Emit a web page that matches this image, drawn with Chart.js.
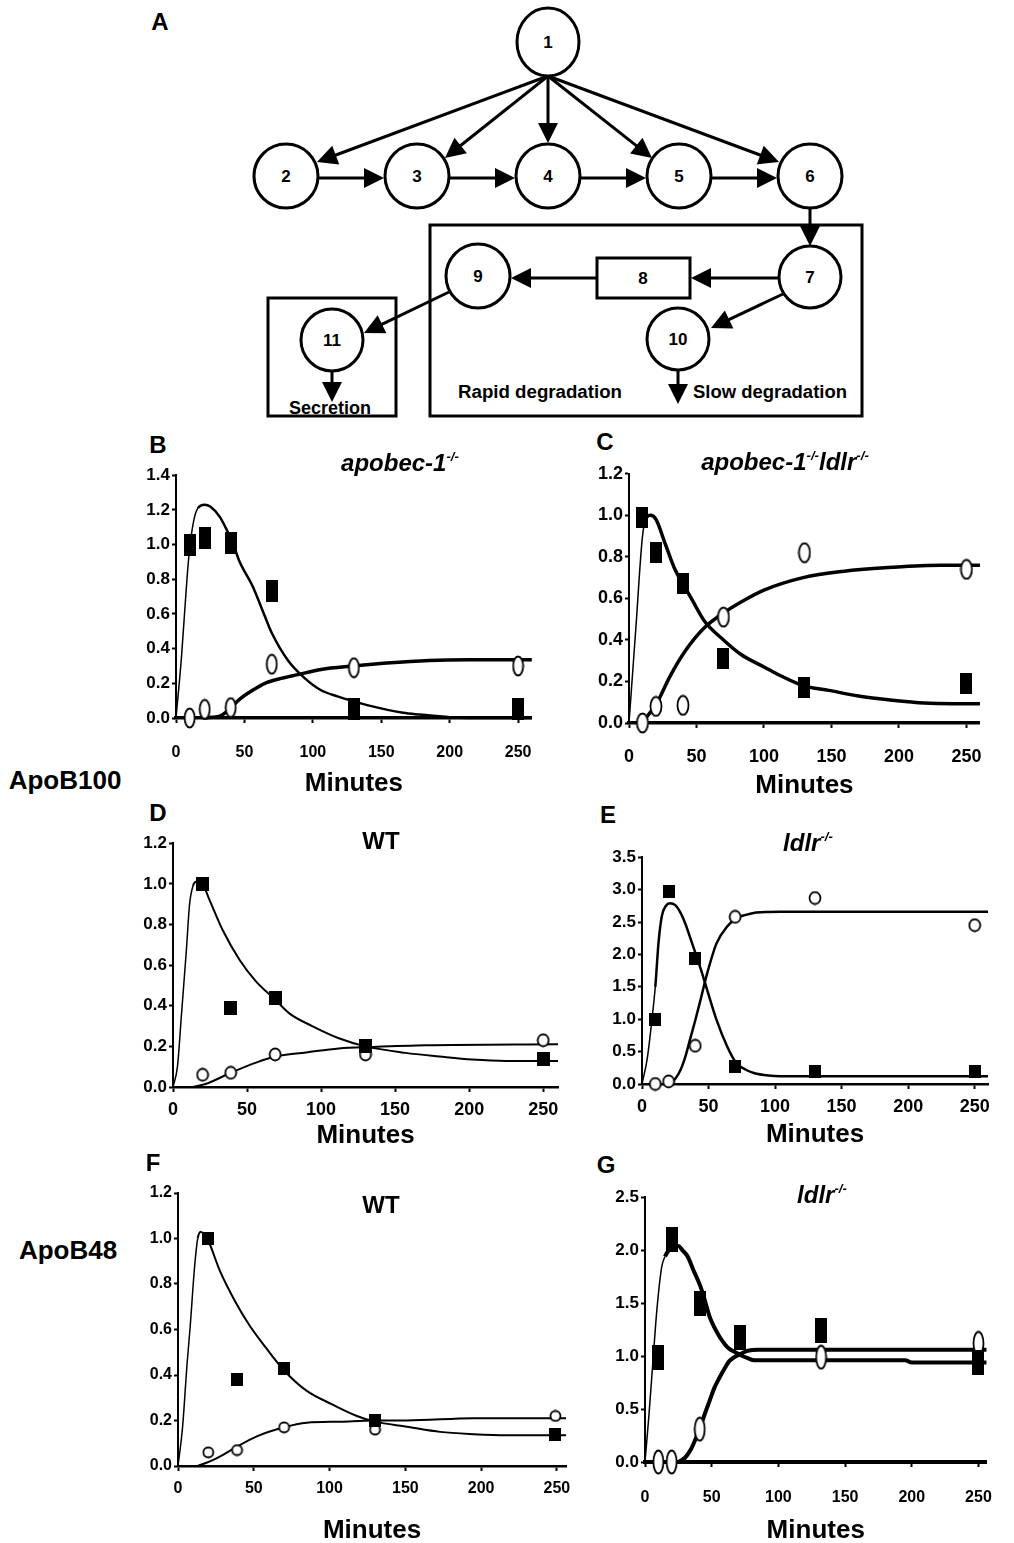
<!DOCTYPE html>
<html>
<head>
<meta charset="utf-8">
<title>ApoB kinetics</title>
<script src="https://cdn.jsdelivr.net/npm/chart.js@4.4.1/dist/chart.umd.min.js"></script>
<style>
  html, body { margin: 0; padding: 0; background: #fff; }
  body { width: 1014px; height: 1543px; position: relative; overflow: hidden; font-family: "Liberation Sans", Arial, sans-serif; }
  canvas { position: absolute; }
  .lbl { position: absolute; transform: translate(-50%, -50%); font-weight: bold; white-space: nowrap; color: #000; z-index: 2; }
  .letter { font-size: 24px; }
  .ttl { font-size: 24px; }
  .ttl i { font-style: italic; }
  .ttl sup { font-size: 0.55em; vertical-align: 0.75em; line-height: 0; }
  .side { font-size: 26px; }
</style>
</head>
<body>

<svg id="diagram" width="1014" height="430" style="position:absolute;left:0;top:0"></svg>

<div class="lbl letter" style="left:160px;top:22px">A</div>
<div class="lbl letter" style="left:158px;top:445px">B</div>
<div class="lbl letter" style="left:605px;top:442px">C</div>
<div class="lbl letter" style="left:158px;top:813px">D</div>
<div class="lbl letter" style="left:608px;top:815px">E</div>
<div class="lbl letter" style="left:153px;top:1163px">F</div>
<div class="lbl letter" style="left:606px;top:1165px">G</div>

<div class="lbl ttl" style="left:400px;top:463px"><i>apobec-1<sup>-/-</sup></i></div>
<div class="lbl ttl" style="left:785px;top:462px"><i>apobec-1<sup>-/-</sup>ldlr<sup>-/-</sup></i></div>
<div class="lbl ttl" style="left:381px;top:841px">WT</div>
<div class="lbl ttl" style="left:808px;top:843px"><i>ldlr<sup>-/-</sup></i></div>
<div class="lbl ttl" style="left:381px;top:1205px">WT</div>
<div class="lbl ttl" style="left:822px;top:1195px"><i>ldlr<sup>-/-</sup></i></div>

<div class="lbl side" style="left:65px;top:780px">ApoB100</div>
<div class="lbl side" style="left:68px;top:1250px">ApoB48</div>

<script>
// x axis (minutes) and y tick values
const xTicks = [0, 50, 100, 150, 200, 250];
const yTicks12 = [0, 0.2, 0.4, 0.6, 0.8, 1.0, 1.2];
const yTicks14 = [0, 0.2, 0.4, 0.6, 0.8, 1.0, 1.2, 1.4];
const yTicks25 = [0, 0.5, 1.0, 1.5, 2.0, 2.5];
const yTicks35 = [0, 0.5, 1.0, 1.5, 2.0, 2.5, 3.0, 3.5];

// B - apobec-1-/- (ApoB100)
const bMinutes = [10, 21, 40, 70, 130, 250];
const bSquares = [1.00, 1.04, 1.01, 0.73, 0.05, 0.05];
const bCircles = [0.00, 0.05, 0.06, 0.31, 0.29, 0.30];
const bFitSqX = [0, 4, 8, 10, 13, 16, 21, 25, 32, 38, 42, 46, 56, 65, 70, 82, 94, 106, 118, 130, 142, 166, 178, 200, 230, 260];
const bFitSqY = [0, 0.35, 0.8, 0.98, 1.14, 1.21, 1.23, 1.22, 1.16, 1.07, 1.0, 0.91, 0.76, 0.585, 0.49, 0.33, 0.23, 0.16, 0.125, 0.096, 0.07, 0.03, 0.02, 0.005, 0, 0];
const bFitCiX = [20, 26, 32, 39, 46, 56, 65, 75, 89, 106, 130, 154, 185, 214, 260];
const bFitCiY = [0, 0.004, 0.01, 0.05, 0.105, 0.16, 0.2, 0.225, 0.25, 0.28, 0.30, 0.317, 0.332, 0.336, 0.336];

// C - apobec-1-/-ldlr-/- (ApoB100)
const cMinutes = [10, 20, 40, 70, 130, 250];
const cSquares = [0.99, 0.82, 0.67, 0.31, 0.17, 0.19];
const cCircles = [0.00, 0.08, 0.085, 0.51, 0.82, 0.74];
const cFitSqX = [0, 5, 10, 13, 16, 20, 27, 34, 40, 47, 56, 70, 83, 100, 110, 129, 148, 170, 195, 219, 240, 260];
const cFitSqY = [0, 0.45, 0.9, 0.99, 1.0, 0.98, 0.86, 0.74, 0.67, 0.59, 0.49, 0.40, 0.33, 0.27, 0.235, 0.18, 0.157, 0.13, 0.11, 0.096, 0.093, 0.093];
const cFitCiX = [9, 20, 30, 42, 56, 70, 85, 100, 129, 158, 195, 231, 260];
const cFitCiY = [0, 0.088, 0.22, 0.35, 0.46, 0.53, 0.59, 0.64, 0.70, 0.73, 0.75, 0.76, 0.76];

// D - WT (ApoB100)
const dMinutes = [20, 39, 69, 130, 250];
const dSquares = [1.00, 0.39, 0.44, 0.20, 0.14];
const dCircles = [0.06, 0.07, 0.16, 0.16, 0.23];
const dFitSqX = [0, 3, 5.6, 9, 11.2, 13.5, 15.7, 19.8, 24.7, 33.7, 45, 56, 69, 79, 94, 112, 130, 157, 180, 202, 225, 260];
const dFitSqY = [0, 0.1, 0.345, 0.67, 0.9, 0.99, 1.01, 1.0, 0.92, 0.77, 0.625, 0.52, 0.43, 0.36, 0.30, 0.24, 0.20, 0.168, 0.15, 0.135, 0.128, 0.128];
const dFitCiX = [13.5, 22.5, 39, 56, 69, 90, 112, 135, 171, 260];
const dFitCiY = [0, 0.016, 0.07, 0.12, 0.15, 0.17, 0.19, 0.197, 0.205, 0.21];

// E - ldlr-/- (ApoB100)
const eMinutes = [10, 20, 40, 70, 130, 250];
const eSquares = [1.00, 2.97, 1.93, 0.27, 0.19, 0.19];
const eCircles = [0.00, 0.04, 0.59, 2.58, 2.87, 2.45];
const eFitSqX = [0, 4, 7.5, 10, 12.5, 15, 18, 21, 25, 29, 33, 36, 41, 45, 49, 56, 64, 71, 78, 84, 95, 104, 130, 260];
const eFitSqY = [0, 0.4, 1.0, 1.5, 2.2, 2.6, 2.75, 2.79, 2.76, 2.64, 2.45, 2.27, 1.97, 1.72, 1.45, 0.99, 0.58, 0.32, 0.22, 0.17, 0.13, 0.12, 0.12, 0.12];
const eFitCiX = [20, 25, 29, 33, 36, 40, 44, 49, 56, 64, 71, 78, 84, 95, 104, 130, 260];
const eFitCiY = [0, 0.08, 0.22, 0.45, 0.68, 0.98, 1.30, 1.71, 2.17, 2.43, 2.56, 2.61, 2.64, 2.655, 2.66, 2.66, 2.66];

// F - WT (ApoB48)
const fMinutes = [20, 39, 70, 130, 249];
const fSquares = [1.00, 0.38, 0.43, 0.20, 0.14];
const fCircles = [0.06, 0.07, 0.17, 0.16, 0.22];
const fFitSqX = [0, 3, 6, 8, 11, 13, 15, 17, 20, 27.5, 38, 47, 58, 70, 85, 102, 118, 130, 151, 173, 195, 217, 250, 256];
const fFitSqY = [0, 0.17, 0.45, 0.61, 0.88, 1.0, 1.03, 1.02, 0.99, 0.86, 0.72, 0.62, 0.52, 0.42, 0.33, 0.27, 0.22, 0.195, 0.173, 0.15, 0.14, 0.135, 0.135, 0.135];
const fFitCiX = [13, 21, 30, 39, 52, 70, 85, 107, 129, 151, 195, 256];
const fFitCiY = [0, 0.02, 0.05, 0.085, 0.13, 0.17, 0.19, 0.195, 0.2, 0.2, 0.21, 0.21];

// G - ldlr-/- (ApoB48)
const gMinutes = [10, 20, 41, 71, 132, 250];
const gSquares = [0.99, 2.10, 1.50, 1.18, 1.24, 0.94];
const gCircles = [0.00, 0.00, 0.31, null, 0.99, 1.12];
const gFitSqX = [0, 3, 6, 9, 12.5, 15, 18, 22, 25, 28, 32, 36, 41.5, 45, 48.5, 52, 56, 60, 63, 67, 71.5, 77, 82, 100, 150, 195, 200, 256];
const gFitSqY = [0, 0.45, 0.96, 1.45, 1.84, 1.94, 2.0, 2.04, 2.04, 2.0, 1.94, 1.82, 1.66, 1.52, 1.37, 1.27, 1.18, 1.11, 1.07, 1.04, 1.01, 0.98, 0.96, 0.96, 0.96, 0.96, 0.94, 0.94];
const gFitCiX = [25, 30, 34, 38, 41.5, 45, 48.5, 52, 56, 60, 63, 67, 71.5, 77, 85, 100, 256];
const gFitCiY = [0, 0.04, 0.11, 0.22, 0.33, 0.46, 0.58, 0.70, 0.80, 0.89, 0.95, 0.99, 1.02, 1.05, 1.06, 1.06, 1.06];

const SANS = "'Liberation Sans', Arial, sans-serif";
const NARROW = "'Liberation Sans Narrow', 'Arial Narrow', 'Liberation Sans', Arial, sans-serif";

// --- diagram (panel A) ---
const NS = "http://www.w3.org/2000/svg";
const svg = document.getElementById("diagram");
function el(tag, attrs) {
    const e = document.createElementNS(NS, tag);
    for (const k in attrs) e.setAttribute(k, attrs[k]);
    svg.appendChild(e);
    return e;
}
function node(cx, cy, rx, ry, label) {
    el("ellipse", { cx: cx, cy: cy, rx: rx, ry: ry, fill: "#fff", stroke: "#000", "stroke-width": 3 });
    const t = el("text", { x: cx, y: cy + 6, "text-anchor": "middle", "font-family": SANS, "font-weight": "bold", "font-size": 17 });
    t.textContent = label;
}
function arrow(x1, y1, x2, y2) {
    const len = Math.hypot(x2 - x1, y2 - y1);
    const ux = (x2 - x1) / len, uy = (y2 - y1) / len;
    const hl = 20, hw = 10;
    const bx = x2 - ux * hl, by = y2 - uy * hl;
    el("line", { x1: x1, y1: y1, x2: bx + ux * 2, y2: by + uy * 2, stroke: "#000", "stroke-width": 3 });
    el("polygon", { points: [x2, y2, bx - uy * hw, by + ux * hw, bx + uy * hw, by - ux * hw].join(" "), fill: "#000" });
}
function text(x, y, str, w) {
    const t = el("text", { x: x, y: y, "font-family": SANS, "font-weight": "bold", "font-size": 18, textLength: w, lengthAdjust: "spacingAndGlyphs" });
    t.textContent = str;
}

el("rect", { x: 430, y: 225, width: 432, height: 191, fill: "none", stroke: "#000", "stroke-width": 3 });
el("rect", { x: 268, y: 298, width: 128, height: 118, fill: "none", stroke: "#000", "stroke-width": 3 });

arrow(548, 76, 317, 162);
arrow(548, 76, 445, 158);
arrow(548, 76, 548, 143);
arrow(548, 76, 652, 158);
arrow(548, 76, 779, 162);
arrow(318, 178, 384, 178);
arrow(449, 178, 515, 178);
arrow(580, 178, 646, 178);
arrow(711, 178, 777, 178);
arrow(810, 208, 810, 246);
arrow(779, 278, 691, 278);
arrow(597, 278, 511, 278);
arrow(449, 292, 364, 333);
arrow(783, 294, 711, 328);
arrow(332, 371, 332, 402);
arrow(678, 370, 678, 404);

node(548, 42, 31, 34, "1");
node(286, 176, 32, 32, "2");
node(417, 176, 32, 32, "3");
node(548, 176, 32, 32, "4");
node(679, 176, 32, 32, "5");
node(810, 176, 32, 32, "6");
node(810, 277, 31, 31, "7");
node(478, 276, 32, 32, "9");
node(678, 339, 31, 31, "10");
node(332, 340, 31, 31, "11");
el("rect", { x: 597, y: 258, width: 93, height: 40, fill: "#fff", stroke: "#000", "stroke-width": 3 });
el("text", { x: 643, y: 284, "text-anchor": "middle", "font-family": SANS, "font-weight": "bold", "font-size": 17 }).textContent = "8";

text(289, 414, "Secretion", 82);
text(458, 398, "Rapid degradation", 164);
text(693, 398, "Slow degradation", 154);

// bracket on the left side
el("line", { x1: 48, y1: 475, x2: 48, y2: 725, stroke: "#000", "stroke-width": 2 });
el("line", { x1: 34, y1: 475, x2: 66, y2: 475, stroke: "#000", "stroke-width": 4 });
el("line", { x1: 47, y1: 852, x2: 47, y2: 1100, stroke: "#000", "stroke-width": 2 });
el("line", { x1: 31, y1: 1100, x2: 63, y2: 1100, stroke: "#000", "stroke-width": 4 });

// --- charts ---
function markRect(w, h) {
    const c = document.createElement("canvas");
    c.width = w; c.height = h;
    const g = c.getContext("2d");
    g.fillStyle = "#000";
    g.fillRect(0, 0, w, h);
    return c;
}
function markOval(w, h) {
    const c = document.createElement("canvas");
    c.width = w + 2; c.height = h + 2;
    const g = c.getContext("2d");
    g.beginPath();
    g.ellipse(c.width / 2, c.height / 2, w / 2 - 0.5, h / 2 - 0.5, 0, 0, Math.PI * 2);
    g.fillStyle = "#fff";
    g.fill();
    g.lineWidth = 1.8;
    g.strokeStyle = "#000";
    g.stroke();
    return c;
}
function pts(xs, ys) {
    return xs.map((x, i) => ({ x: x, y: ys[i] }));
}

function panel(p) {
    const cv = document.createElement("canvas");
    cv.width = p.yW + (p.right - p.axisX) + p.padR;
    cv.height = p.padT + (p.bottom - p.top) + p.xH;
    cv.style.left = (p.axisX - p.yW) + "px";
    cv.style.top = (p.top - p.padT) + "px";
    document.body.appendChild(cv);

    // thin rising part of the fitted curve, thicker afterwards
    const riseWidth = ctx => (ctx.p1.parsed.x <= p.rise ? 1.5 : p.lw);

    new Chart(cv.getContext("2d"), {
        type: "scatter",
        data: {
            datasets: [
                { data: pts(p.t, p.sq), pointStyle: markRect(p.sqW, p.sqH), pointRadius: 5, order: 0, clip: false },
                { data: pts(p.t, p.ci), pointStyle: markOval(p.ciW, p.ciH), pointRadius: 5, order: 1, clip: false },
                { data: pts(p.fsx, p.fsy), showLine: true, pointRadius: 0, borderColor: "#000", borderWidth: p.lw,
                  cubicInterpolationMode: "monotone", segment: { borderWidth: riseWidth }, order: 2, clip: false },
                { data: pts(p.fcx, p.fcy), showLine: true, pointRadius: 0, borderColor: "#000", borderWidth: p.lw2,
                  cubicInterpolationMode: "monotone", order: 3, clip: false }
            ]
        },
        options: {
            responsive: false,
            animation: false,
            devicePixelRatio: 1,
            events: [],
            layout: { padding: { top: p.padT, right: p.padR, left: 0, bottom: 0 } },
            plugins: { legend: { display: false }, tooltip: { enabled: false } },
            scales: {
                x: {
                    type: "linear", min: 0, max: p.max,
                    afterBuildTicks: s => { s.ticks = xTicks.map(v => ({ value: v })); },
                    afterFit: s => { s.height = p.xH; },
                    border: { display: true, color: "#000", width: p.xAxisW },
                    grid: { display: true, drawOnChartArea: false, drawTicks: true, tickLength: 5, tickWidth: 2, tickColor: "#000", color: "#000" },
                    ticks: { color: "#000", font: p.xFont, padding: p.xPad, maxRotation: 0, autoSkip: false },
                    title: { display: true, text: "Minutes", color: "#000", font: { family: SANS, size: 26, weight: "bold" }, padding: 0 }
                },
                y: {
                    type: "linear", min: 0, max: p.ymax,
                    afterBuildTicks: s => { s.ticks = p.yTicks.map(v => ({ value: v })); },
                    afterFit: s => { s.width = p.yW; },
                    border: { display: true, color: "#000", width: 2 },
                    grid: { display: true, drawOnChartArea: false, drawTicks: true, tickLength: 4, tickWidth: 2, tickColor: "#000", color: "#000" },
                    ticks: { color: "#000", font: p.yFont, padding: 2, callback: v => Number(v).toFixed(1) }
                }
            }
        }
    });
}

panel({ axisX: 176, right: 538, top: 475, bottom: 718, max: 260, ymax: 1.4, yTicks: yTicks14,
        yW: 50, padT: 12, padR: 14, xH: 81, xPad: 20,
        xFont: { family: NARROW, size: 16, weight: "bold" }, yFont: { family: SANS, size: 17, weight: "bold" },
        t: bMinutes, sq: bSquares, ci: bCircles, fsx: bFitSqX, fsy: bFitSqY, fcx: bFitCiX, fcy: bFitCiY,
        sqW: 12, sqH: 22, ciW: 11, ciH: 20, lw: 2.5, lw2: 3.5, rise: 16, xAxisW: 3.5 });

panel({ axisX: 629, right: 986, top: 473, bottom: 723, max: 260, ymax: 1.2, yTicks: yTicks12,
        yW: 50, padT: 12, padR: 14, xH: 78, xPad: 18,
        xFont: { family: NARROW, size: 18, weight: "bold" }, yFont: { family: SANS, size: 18, weight: "bold" },
        t: cMinutes, sq: cSquares, ci: cCircles, fsx: cFitSqX, fsy: cFitSqY, fcx: cFitCiX, fcy: cFitCiY,
        sqW: 12, sqH: 21, ciW: 12, ciH: 20, lw: 3.5, lw2: 3.5, rise: 14, xAxisW: 3.5 });

panel({ axisX: 173, right: 558, top: 843, bottom: 1087, max: 260, ymax: 1.2, yTicks: yTicks12,
        yW: 50, padT: 12, padR: 14, xH: 64, xPad: 7,
        xFont: { family: NARROW, size: 18, weight: "bold" }, yFont: { family: NARROW, size: 17, weight: "bold" },
        t: dMinutes, sq: dSquares, ci: dCircles, fsx: dFitSqX, fsy: dFitSqY, fcx: dFitCiX, fcy: dFitCiY,
        sqW: 13, sqH: 14, ciW: 12, ciH: 13, lw: 2, lw2: 2, rise: 14, xAxisW: 2.5 });

panel({ axisX: 642, right: 988, top: 857, bottom: 1084, max: 260, ymax: 3.5, yTicks: yTicks35,
        yW: 50, padT: 12, padR: 14, xH: 66, xPad: 7,
        xFont: { family: NARROW, size: 18, weight: "bold" }, yFont: { family: NARROW, size: 17, weight: "bold" },
        t: eMinutes, sq: eSquares, ci: eCircles, fsx: eFitSqX, fsy: eFitSqY, fcx: eFitCiX, fcy: eFitCiY,
        sqW: 12, sqH: 13, ciW: 12, ciH: 13, lw: 2.5, lw2: 2.5, rise: 12, xAxisW: 2.5 });

panel({ axisX: 178, right: 566, top: 1193, bottom: 1466, max: 256, ymax: 1.2, yTicks: yTicks12,
        yW: 50, padT: 12, padR: 14, xH: 80, xPad: 8,
        xFont: { family: SANS, size: 16, weight: "bold" }, yFont: { family: SANS, size: 16, weight: "bold" },
        t: fMinutes, sq: fSquares, ci: fCircles, fsx: fFitSqX, fsy: fFitSqY, fcx: fFitCiX, fcy: fFitCiY,
        sqW: 12, sqH: 13, ciW: 11, ciH: 11, lw: 2, lw2: 2, rise: 13, xAxisW: 2.5 });

panel({ axisX: 645, right: 1005, top: 1197, bottom: 1462, max: 256, ymax: 2.5, yTicks: yTicks25,
        yW: 50, padT: 12, padR: 8, xH: 84, xPad: 21,
        xFont: { family: NARROW, size: 16, weight: "bold" }, yFont: { family: NARROW, size: 17, weight: "bold" },
        t: gMinutes, sq: gSquares, ci: gCircles, fsx: gFitSqX, fsy: gFitSqY, fcx: gFitCiX, fcy: gFitCiY,
        sqW: 12, sqH: 25, ciW: 11, ciH: 24, lw: 4, lw2: 4, rise: 15, xAxisW: 4 });
</script>
</body>
</html>
